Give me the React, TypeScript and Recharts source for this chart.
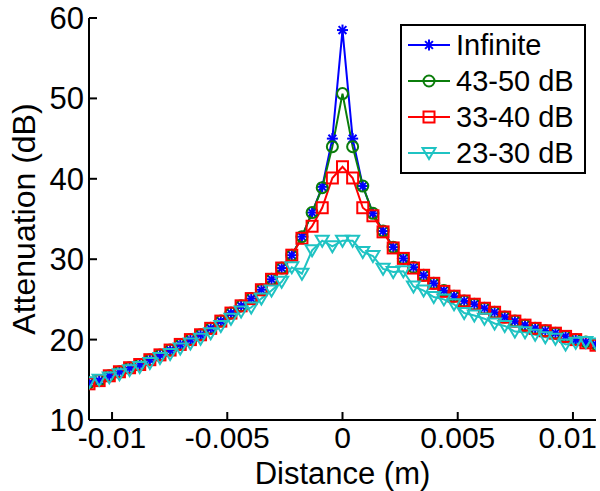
import { LineChart, Line, XAxis, YAxis, Legend } from 'recharts'

// distance (m), 51 samples
const distance = [
  -0.011, -0.01056, -0.01012, -0.00968, -0.00924, -0.0088, -0.00836, -0.00792, -0.00748, -0.00704,
  -0.0066, -0.00616, -0.00572, -0.00528, -0.00484, -0.0044, -0.00396, -0.00352, -0.00308, -0.00264,
  -0.0022, -0.00176, -0.00132, -0.00088, -0.00044, 0, 0.00044, 0.00088, 0.00132, 0.00176,
  0.0022, 0.00264, 0.00308, 0.00352, 0.00396, 0.0044, 0.00484, 0.00528, 0.00572, 0.00616,
  0.0066, 0.00704, 0.00748, 0.00792, 0.00836, 0.0088, 0.00924, 0.00968, 0.01012, 0.01056, 0.011,
]

const infinite = [
  14.6, 14.9, 15.5, 16.0, 16.5, 16.9, 17.5, 18.1, 18.7, 19.4,
  20.0, 20.6, 21.4, 22.3, 23.3, 24.2, 25.1, 26.2, 27.5, 28.9,
  30.5, 32.8, 35.8, 39.0, 45.0, 58.5, 45.0, 39.1, 35.7, 33.5,
  31.5, 30.1, 29.0, 28.0, 27.0, 26.1, 25.4, 24.8, 24.4, 23.9,
  23.4, 22.8, 22.3, 21.8, 21.4, 21.1, 20.8, 20.4, 20.0, 19.7, 19.4,
]

const db43to50 = [
  14.6, 14.9, 15.5, 16.0, 16.5, 16.9, 17.5, 18.1, 18.7, 19.4,
  20.0, 20.6, 21.4, 22.3, 23.3, 24.2, 25.1, 26.2, 27.5, 28.9,
  30.5, 32.8, 35.8, 38.9, 44.0, 50.6, 44.0, 39.1, 35.7, 33.5,
  31.5, 30.1, 29.0, 28.0, 27.0, 26.1, 25.4, 24.8, 24.4, 23.9,
  23.4, 22.8, 22.3, 21.8, 21.4, 21.1, 20.8, 20.4, 20.0, 19.7, 19.4,
]

const db33to40 = [
  14.5, 14.9, 15.5, 16.0, 16.5, 16.9, 17.5, 18.1, 18.7, 19.4,
  20.0, 20.6, 21.4, 22.3, 23.3, 24.2, 25.1, 26.2, 27.5, 28.9,
  30.5, 32.6, 34.1, 36.4, 40.1, 41.5, 40.1, 36.4, 35.4, 33.4,
  31.4, 30.1, 28.9, 28.0, 27.0, 26.0, 25.4, 24.8, 24.4, 23.9,
  23.4, 22.8, 22.3, 21.8, 21.4, 21.1, 20.8, 20.4, 20.0, 19.6, 19.3,
]

const db23to30 = [
  14.7, 15.0, 15.3, 15.7, 16.2, 16.6, 17.1, 17.7, 18.2, 18.9,
  19.5, 20.1, 20.8, 21.7, 22.6, 23.5, 24.0, 25.1, 26.1, 27.2,
  29.0, 28.2, 31.1, 32.3, 31.6, 32.3, 32.3, 30.9, 30.4, 28.8,
  28.4, 28.5, 26.6, 26.1, 25.3, 25.0, 24.4, 23.3, 23.0, 22.6,
  22.0, 21.7, 21.0, 20.9, 20.6, 20.3, 20.1, 19.4, 19.6, 19.7, 19.5,
]

const xTicks = [-0.01, -0.005, 0, 0.005, 0.01]
const yTicks = [10, 20, 30, 40, 50, 60]

const series = [
  { key: 'inf', name: 'Infinite', color: '#0000ff', marker: 'star' },
  { key: 'g', name: '43-50 dB', color: '#0b7d0b', marker: 'circle' },
  { key: 'r', name: '33-40 dB', color: '#ff0000', marker: 'square' },
  { key: 'c', name: '23-30 dB', color: '#1fc3c3', marker: 'tri' },
]

const rows = distance.map((d, i) => ({
  d,
  inf: infinite[i],
  g: db43to50[i],
  r: db33to40[i],
  c: db23to30[i],
}))

const FONT = '"Liberation Sans", Arial, sans-serif'

function Marker({ kind, cx, cy, color }: { kind: string; cx: number; cy: number; color: string }) {
  const common = { fill: 'none', stroke: color, strokeWidth: 2 }
  if (kind === 'star') {
    const r = 5.5
    const q = 3.9
    return (
      <g stroke={color} strokeWidth={2}>
        <line x1={cx - r} y1={cy} x2={cx + r} y2={cy} />
        <line x1={cx} y1={cy - r} x2={cx} y2={cy + r} />
        <line x1={cx - q} y1={cy - q} x2={cx + q} y2={cy + q} />
        <line x1={cx - q} y1={cy + q} x2={cx + q} y2={cy - q} />
      </g>
    )
  }
  if (kind === 'circle') return <circle cx={cx} cy={cy} r={5.5} {...common} />
  if (kind === 'square') return <rect x={cx - 5.5} y={cy - 5.5} width={11} height={11} {...common} />
  return <path d={`M${cx - 6.5},${cy - 5}L${cx + 6.5},${cy - 5}L${cx},${cy + 6}Z`} {...common} />
}

function dotFor(kind: string, color: string) {
  return (p: any) => (
    <g key={`${kind}-${p.index}`}>
      <Marker kind={kind} cx={p.cx} cy={p.cy} color={color} />
    </g>
  )
}

// x tick label; the last one is pulled in so it isn't clipped by the page edge
function XTick({ x, y, payload }: any) {
  const last = payload.value === xTicks[xTicks.length - 1]
  return (
    <text
      x={last ? Math.min(x + 29, 597) : x}
      y={y}
      dy="0.71em"
      textAnchor={last ? 'end' : 'middle'}
      fill="#000"
      fontSize={30}
      fontFamily={FONT}
    >
      {String(payload.value)}
    </text>
  )
}

function LegendBox() {
  return (
    <div
      style={{
        border: '2px solid #000',
        background: '#fff',
        width: 182,
        padding: '1px 0',
        fontFamily: FONT,
        fontSize: 29,
        color: '#000',
      }}
    >
      {series.map(s => (
        <div key={s.key} style={{ display: 'flex', alignItems: 'center', height: 36 }}>
          <svg width={54} height={36} style={{ flex: 'none' }}>
            <line x1={6} y1={18} x2={48} y2={18} stroke={s.color} strokeWidth={2} />
            <Marker kind={s.marker} cx={27} cy={18} color={s.color} />
          </svg>
          <span style={{ lineHeight: '36px', whiteSpace: 'nowrap' }}>{s.name}</span>
        </div>
      ))}
    </div>
  )
}

export default function App() {
  return (
    <div style={{ position: 'absolute', left: 0, top: 0, width: 600, height: 491, background: '#fff' }}>
      <LineChart width={600} height={491} data={rows} margin={{ top: 18, right: 4, left: 19, bottom: 31 }}>
        <XAxis
          dataKey="d"
          type="number"
          domain={[-0.011, 0.011]}
          ticks={xTicks}
          allowDataOverflow
          height={40}
          tickSize={-8}
          tickMargin={15}
          axisLine={{ stroke: '#000', strokeWidth: 2 }}
          tickLine={{ stroke: '#000', strokeWidth: 2 }}
          tick={<XTick />}
          label={{ value: 'Distance (m)', position: 'bottom', offset: 2, fill: '#000', fontSize: 31, fontFamily: FONT }}
        />
        <YAxis
          type="number"
          domain={[10, 60]}
          ticks={yTicks}
          width={70}
          tickSize={-8}
          tickMargin={13}
          axisLine={{ stroke: '#000', strokeWidth: 2 }}
          tickLine={{ stroke: '#000', strokeWidth: 2 }}
          tick={{ fill: '#000', fontSize: 31, fontFamily: FONT }}
          label={{
            value: 'Attenuation (dB)',
            angle: -90,
            position: 'insideLeft',
            offset: 5,
            fill: '#000',
            fontSize: 32,
            fontFamily: FONT,
            style: { textAnchor: 'middle' },
          }}
        />
        {series.map(s => (
          <Line
            key={s.key}
            dataKey={s.key}
            name={s.name}
            stroke={s.color}
            strokeWidth={2}
            dot={dotFor(s.marker, s.color)}
            activeDot={false}
            isAnimationActive={false}
          />
        ))}
        <Legend
          layout="horizontal"
          verticalAlign="middle"
          align="center"
          content={() => <LegendBox />}
          wrapperStyle={{ left: 400, top: 24, width: 186 }}
        />
      </LineChart>
    </div>
  )
}
